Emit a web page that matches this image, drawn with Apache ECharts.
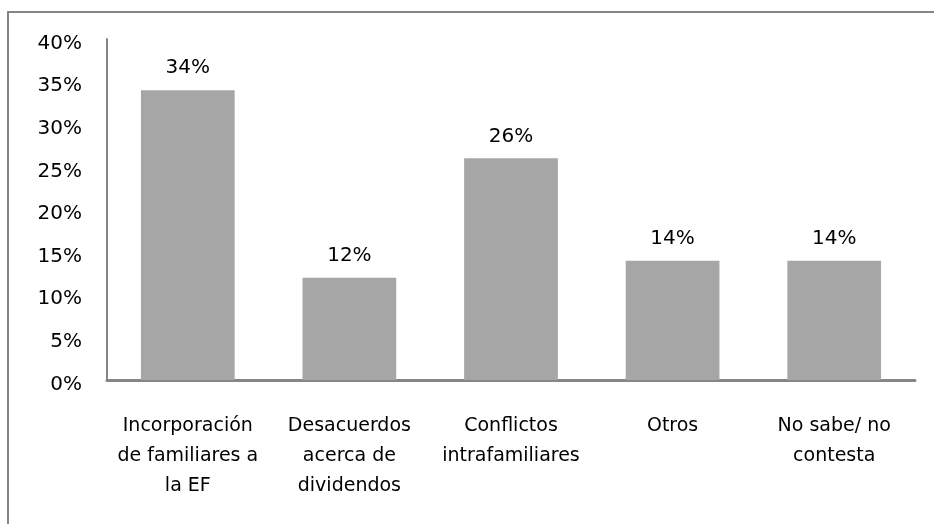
<!DOCTYPE html>
<html>
<head>
<meta charset="utf-8">
<script src="https://cdn.jsdelivr.net/npm/echarts@6/dist/echarts.min.js"></script>
<style>
  html, body { margin: 0; padding: 0; background: #fff; }
  #chart { width: 934px; height: 524px; }
</style>
</head>
<body>
<div id="chart"></div>
<script>
// datos del gráfico
const categories = [
  'Incorporación\nde familiares a\nla EF',
  'Desacuerdos\nacerca de\ndividendos',
  'Conflictos\nintrafamiliares',
  'Otros',
  'No sabe/ no\ncontesta'
]
const values = [0.34, 0.12, 0.26, 0.14, 0.14]
const yTicks = [0, 0.05, 0.1, 0.15, 0.2, 0.25, 0.3, 0.35, 0.4]

const axisColor = '#868686'
const barColor = '#a6a6a6'
const font = 'DejaVu Sans'

const chart = echarts.init(document.getElementById('chart'), null, { renderer: 'canvas' })
chart.setOption({
  animation: false,
  backgroundColor: '#fff',
  textStyle: { fontFamily: font },
  // marco exterior (solo se ven el borde superior e izquierdo)
  graphic: [{
    type: 'rect',
    shape: { x: 8, y: 12, width: 2000, height: 2000 },
    style: { fill: 'none', stroke: axisColor, lineWidth: 2 },
    silent: true
  }],
  grid: {
    left: 107,
    right: 19,
    top: 39,
    bottom: 144
  },
  xAxis: {
    type: 'category',
    data: categories,
    axisTick: { show: false },
    axisLine: {
      show: true,
      lineStyle: { color: axisColor, width: 3 }
    },
    axisLabel: {
      interval: 0,
      margin: 31,
      color: '#000',
      fontFamily: font,
      fontSize: 19,
      lineHeight: 30
    }
  },
  yAxis: {
    type: 'value',
    min: yTicks[0],
    max: yTicks[yTicks.length - 1],
    interval: yTicks[1] - yTicks[0],
    splitLine: { show: false },
    axisTick: { show: false },
    axisLine: {
      show: true,
      lineStyle: { color: axisColor, width: 2 }
    },
    axisLabel: {
      margin: 25,
      color: '#000',
      fontFamily: font,
      fontSize: 20,
      formatter: v => '{v|' + Math.round(v * 100) + '%}',
      rich: {
        v: { fontFamily: font, fontSize: 20, color: '#000', padding: [9, 0, 0, 0] }
      }
    }
  },
  series: [{
    type: 'bar',
    data: values,
    barCategoryGap: '42%',
    itemStyle: { color: barColor },
    label: {
      show: true,
      position: 'top',
      distance: 12,
      color: '#000',
      fontFamily: font,
      fontSize: 20,
      formatter: p => Math.round(p.value * 100) + '%'
    }
  }]
})
</script>
</body>
</html>
